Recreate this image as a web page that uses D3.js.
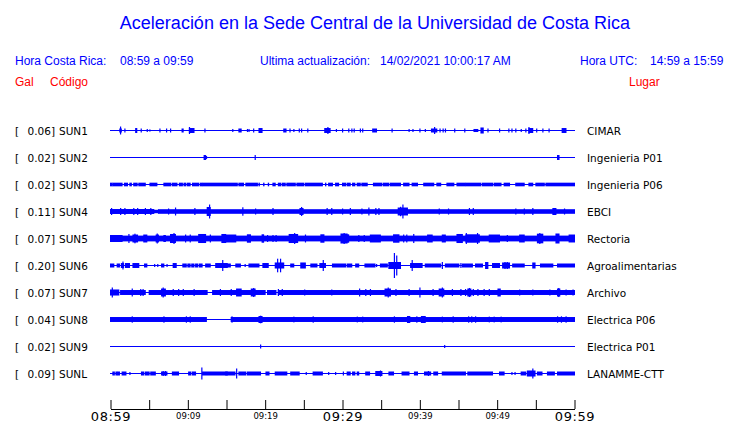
<!DOCTYPE html>
<html><head><meta charset="utf-8">
<script src="https://cdn.jsdelivr.net/npm/d3@7"></script>
<style>
html,body{margin:0;padding:0;background:#fff;}
svg{display:block;}
</style></head>
<body>
<svg id="chart" width="740" height="423"></svg>
<script>
// ---------------- DATA ----------------
const stations = ["SUN1","SUN2","SUN3","SUN4","SUN5","SUN6","SUN7","SUN8","SUN9","SUNL"];
const places = ["CIMAR","Ingenieria P01","Ingenieria P06","EBCI","Rectoria","Agroalimentarias","Archivo","Electrica P06","Electrica P01","LANAMME-CTT"];
const peakGal = ["0.06","0.02","0.02","0.11","0.07","0.20","0.07","0.04","0.02","0.09"];
const tickMinutes = [0,5,10,15,20,25,30,35,40,45,50,55,60];
const tickLabels = ["08:59","","09:09","","09:19","","09:29","","09:39","","09:49","","09:59"];
const bigTickLabels = ["08:59","09:29","09:59"];

// envelope events per trace: [startMinute, endMinute, amplitude in gal]; start==end is a single spike
const sun1 = [[1.2,1.4,0.025],[1.29,1.29,0.058],[1.85,1.85,0.025],[3.25,3.4,0.033],[3.96,3.96,0.025],[4.74,4.74,0.017],[5.08,5.08,0.01],[6.38,6.38,0.025],[7.24,7.24,0.025],[7.76,7.76,0.025],[9.25,9.4,0.025],[10.2,10.8,0.033],[10.2,10.2,0.05],[12.2,12.2,0.025],[15.8,15.8,0.017],[16.6,16.9,0.025],[17.7,17.7,0.017],[17.9,17.9,0.017],[18.5,18.5,0.025],[19.2,19.6,0.033],[22.4,22.7,0.025],[23.2,23.2,0.025],[23.7,23.7,0.017],[24.4,24.4,0.025],[24.7,24.7,0.025],[25.5,25.5,0.025],[27.7,28.4,0.033],[28.1,28.1,0.05],[29.2,29.2,0.017],[30.0,30.0,0.025],[30.8,30.8,0.025],[31.2,31.2,0.025],[31.5,31.5,0.025],[32.3,32.3,0.025],[32.6,32.6,0.025],[33.9,34.4,0.025],[36.4,36.4,0.025],[38.6,38.6,0.017],[39.1,39.1,0.017],[40.0,40.0,0.025],[40.7,40.7,0.017],[41.5,42.2,0.025],[41.9,41.9,0.05],[42.6,42.6,0.025],[43.0,43.0,0.025],[43.3,43.3,0.025],[44.5,44.5,0.025],[45.8,45.8,0.025],[47.0,47.5,0.017],[47.9,48.2,0.042],[48.8,48.8,0.025],[50.3,50.3,0.025],[51.5,51.5,0.025],[51.9,51.9,0.025],[52.4,52.4,0.025],[53.1,53.1,0.017],[53.7,53.7,0.025],[54.1,54.6,0.033],[54.1,54.1,0.05],[55.1,55.1,0.025],[55.9,55.9,0.025],[56.7,56.7,0.025],[58.4,58.9,0.033]];
const sun2 = [[12.1,12.3,0.033],[12.4,12.4,0.017],[18.7,18.7,0.033],[57.8,58.0,0.033]];
const sun3 = [[0,0.2,0.022],[0.3,1.5,0.022],[1.8,2.2,0.022],[2.5,2.7,0.022],[3.0,3.45,0.022],[3.66,4.5,0.022],[5.1,6.0,0.022],[6.9,7.8,0.022],[8.0,8.6,0.022],[8.9,9.3,0.022],[9.5,9.7,0.022],[9.9,10.3,0.022],[10.6,11.4,0.022],[11.6,11.8,0.022],[11.9,16.4,0.022],[16.6,17.2,0.022],[17.5,19.0,0.022],[19.2,19.25,0.022],[19.8,19.85,0.022],[20.4,20.45,0.022],[21.0,21.3,0.022],[21.7,22.0,0.022],[22.2,22.6,0.022],[22.8,23.9,0.022],[24.1,25.0,0.022],[25.2,27.4,0.022],[27.8,27.85,0.022],[28.2,28.7,0.022],[29.1,29.5,0.022],[30.0,30.4,0.022],[30.6,31.0,0.022],[31.3,31.6,0.022],[31.9,32.3,0.022],[32.5,33.2,0.022],[34.0,35.1,0.022],[35.3,36.0,0.022],[36.2,37.5,0.022],[37.9,38.6,0.022],[39.0,39.7,0.022],[40.5,41.8,0.022],[42.2,42.7,0.022],[43.5,44.4,0.022],[44.8,45.9,0.022],[46.0,47.9,0.022],[48.1,49.4,0.022],[49.6,50.5,0.022],[50.9,51.6,0.022],[52.4,53.5,0.022],[54.1,54.6,0.022],[55.0,56.1,0.022],[56.3,60,0.022]];
const sun4 = [[0,5.6,0.033],[5.6,6.2,0.02],[6.2,60,0.03],[0.13,0.13,0.05],[1.3,1.3,0.05],[1.85,1.85,0.05],[3.0,3.0,0.05],[3.5,3.5,0.05],[4.5,4.5,0.05],[5.2,5.2,0.05],[7.5,7.5,0.042],[8.4,8.4,0.058],[10.9,10.9,0.05],[12.5,12.9,0.067],[12.8,12.8,0.108],[17.1,17.1,0.062],[18.75,18.75,0.042],[21.0,21.0,0.05],[24.5,24.9,0.05],[24.7,24.7,0.067],[28.0,28.0,0.05],[28.6,28.6,0.05],[30.0,30.0,0.042],[31.0,31.0,0.05],[32.5,32.5,0.042],[33.4,33.4,0.058],[34.3,34.3,0.05],[34.7,34.7,0.05],[37.2,38.4,0.058],[37.5,37.5,0.07],[37.8,37.8,0.108],[42.5,42.5,0.042],[43.7,43.7,0.042],[46.4,46.4,0.05],[46.9,46.9,0.05],[52.4,52.4,0.042],[53.5,53.5,0.042],[54.6,54.6,0.05],[57.2,57.6,0.05],[58.7,58.7,0.042]];
const sun5 = [[0,60,0.04],[0,1.5,0.05],[2.37,2.37,0.067],[2.9,3.5,0.058],[3.15,3.15,0.072],[4.3,4.7,0.058],[5.9,6.2,0.058],[6.03,6.03,0.075],[6.9,7.1,0.05],[7.76,8.4,0.067],[8.2,8.2,0.083],[9.7,9.7,0.058],[10.3,10.3,0.058],[11.4,12.3,0.067],[12.9,12.9,0.058],[14.4,14.9,0.067],[14.9,16.2,0.058],[17.7,18.1,0.062],[19.6,19.8,0.062],[20.3,20.3,0.05],[21.0,21.0,0.05],[21.4,21.4,0.05],[23.1,24.2,0.067],[23.8,23.8,0.083],[25.2,25.2,0.058],[27.2,27.6,0.062],[29.8,30.6,0.075],[30.2,30.2,0.083],[30.6,30.8,0.062],[32.1,32.1,0.05],[32.8,32.8,0.05],[33.6,34.9,0.058],[36.6,37.3,0.062],[37.9,37.9,0.058],[38.3,38.3,0.058],[39.2,39.2,0.067],[41.0,41.6,0.058],[42.9,43.3,0.058],[44.8,45.5,0.067],[45.95,47.7,0.062],[46.0,46.0,0.083],[47.45,47.45,0.083],[48.97,50.3,0.058],[51.3,51.3,0.05],[52.9,53.5,0.058],[55.2,55.9,0.072],[55.5,55.5,0.083],[57.6,58.0,0.075],[59.3,60,0.058]];
const sun6 = [[0,0.43,0.025],[0.86,1.16,0.025],[1.4,1.7,0.033],[1.6,1.6,0.058],[1.94,2.46,0.033],[2.9,3.66,0.033],[4.4,4.7,0.025],[5.7,5.7,0.017],[6.1,6.1,0.017],[6.6,6.9,0.025],[7.3,7.3,0.017],[8.1,8.5,0.033],[9.35,9.8,0.025],[10.0,10.3,0.025],[10.5,10.8,0.025],[11.0,11.3,0.025],[11.5,11.85,0.025],[12.3,12.9,0.025],[13.6,15.1,0.033],[14.5,14.5,0.083],[14.9,15.5,0.025],[16.2,16.8,0.025],[17.4,17.4,0.017],[17.9,19.2,0.025],[19.7,20.4,0.033],[21.3,22.4,0.042],[21.6,21.6,0.105],[21.98,21.98,0.105],[23.3,23.7,0.025],[24.6,25.2,0.042],[25.9,26.7,0.025],[27.07,27.8,0.033],[27.5,27.5,0.083],[28.7,30.4,0.025],[30.6,31.2,0.025],[31.7,32.1,0.025],[32.9,34.2,0.025],[34.4,34.4,0.017],[34.9,35.8,0.025],[35.99,37.5,0.05],[36.7,36.7,0.2],[37.0,37.0,0.158],[38.8,40.3,0.033],[39.0,39.0,0.083],[40.7,42.7,0.025],[42.9,42.9,0.05],[43.3,45.05,0.025],[45.3,45.3,0.033],[45.5,46.8,0.025],[47.2,48.1,0.025],[48.5,48.8,0.05],[49.4,50.3,0.033],[50.7,51.6,0.042],[51.0,51.0,0.05],[51.3,51.3,0.05],[52.0,53.5,0.025],[54.6,54.9,0.042],[55.6,57.2,0.025],[57.8,60,0.025]];
const sun7 = [[0,1.08,0.042],[1.3,4.5,0.033],[5.0,12.5,0.033],[13.2,20.0,0.033],[20.3,21.4,0.033],[21.7,60,0.033],[0.22,0.22,0.075],[2.8,2.8,0.058],[3.9,3.9,0.05],[4.2,4.2,0.05],[6.6,7.1,0.058],[6.8,6.8,0.075],[8.1,8.1,0.05],[8.8,8.8,0.05],[9.4,9.4,0.05],[10.8,10.8,0.05],[14.2,14.2,0.05],[15.6,15.6,0.05],[16.3,16.9,0.058],[18.2,18.7,0.058],[18.5,18.5,0.067],[21.7,21.7,0.05],[22.2,22.2,0.05],[25.1,25.1,0.042],[28.6,28.6,0.042],[32.2,32.2,0.058],[33.0,33.0,0.05],[33.6,33.6,0.05],[35.5,36.2,0.058],[35.9,35.9,0.075],[36.9,36.9,0.05],[38.6,38.6,0.05],[40.0,40.0,0.075],[41.7,41.7,0.05],[42.5,43.1,0.058],[42.9,42.9,0.075],[44.2,44.2,0.05],[45.3,45.3,0.05],[45.9,45.9,0.05],[46.2,46.6,0.058],[46.4,46.4,0.067],[46.9,46.9,0.05],[47.5,47.5,0.05],[48.3,48.3,0.05],[48.97,48.97,0.05],[50.1,50.4,0.058],[52.9,52.9,0.042],[54.6,54.6,0.042],[56.8,56.8,0.042],[57.8,58.1,0.058],[57.95,57.95,0.067],[58.9,58.9,0.042],[59.8,59.8,0.042]];
const sun8 = [[0,12.4,0.033],[15.6,60,0.033],[2.8,2.8,0.045],[6.9,6.9,0.045],[9.8,9.8,0.045],[10.3,10.3,0.045],[15.7,15.7,0.045],[19.2,19.6,0.05],[19.4,19.4,0.055],[23.7,23.7,0.04],[26.2,26.2,0.045],[31.9,31.9,0.04],[32.6,32.6,0.04],[36.7,36.7,0.045],[38.4,38.7,0.05],[39.6,39.6,0.045],[40.2,40.7,0.05],[42.9,42.9,0.04],[44.3,44.3,0.045],[46.3,46.3,0.045],[46.7,46.7,0.045],[47.2,47.2,0.045],[48.97,48.97,0.04],[49.6,49.6,0.04],[50.5,50.5,0.04],[57.8,57.8,0.045],[58.3,58.3,0.045],[58.9,58.9,0.045]];
const sun9 = [[19.4,19.4,0.025],[43.2,43.2,0.017]];
const sunl = [[0.3,0.5,0.025],[0.7,0.9,0.025],[1.0,1.16,0.025],[1.5,2.0,0.025],[2.5,2.5,0.017],[4.0,4.3,0.025],[4.5,5.0,0.025],[5.2,5.8,0.025],[6.6,7.3,0.025],[6.8,6.8,0.033],[7.1,7.1,0.033],[8.0,8.8,0.025],[10.1,10.4,0.025],[10.6,11.0,0.025],[11.8,11.8,0.092],[11.9,15.1,0.025],[14.9,16.1,0.025],[16.3,16.3,0.075],[16.6,17.5,0.025],[17.7,19.4,0.025],[20.1,20.5,0.025],[21.3,22.8,0.025],[23.3,24.4,0.025],[25.3,25.3,0.017],[26.2,27.4,0.025],[28.2,28.2,0.017],[29.1,29.1,0.017],[30.1,30.1,0.025],[30.6,31.0,0.025],[31.3,31.6,0.025],[31.9,32.1,0.025],[33.0,33.5,0.025],[34.3,35.1,0.033],[34.9,34.9,0.042],[36.0,36.6,0.025],[37.7,38.6,0.025],[39.3,39.7,0.025],[40.6,41.4,0.025],[41.1,41.1,0.033],[41.8,42.3,0.025],[42.9,45.9,0.025],[46.2,49.4,0.025],[50.3,50.9,0.025],[51.9,51.9,0.017],[52.3,52.3,0.017],[53.1,53.7,0.025],[53.9,54.9,0.042],[54.6,54.6,0.075],[55.2,55.8,0.025],[56.5,57.4,0.025],[57.8,60,0.025]];
const traces = [sun1,sun2,sun3,sun4,sun5,sun6,sun7,sun8,sun9,sunl];

// ---------------- DRAW ----------------
const svg = d3.select("#chart");
const BLUE = "#0000ff", RED = "#ff0000";

const x = d3.scaleLinear().domain([0,60]).range([110.5,574.5]);
const y = d3.scalePoint().domain(stations).range([130.5,373.5]);
const amp = d3.scaleLinear().domain([0,0.2]).range([0,12]);

// Header texts
svg.append("text").attr("x",375).attr("y",29).attr("text-anchor","middle")
  .attr("font-family","Liberation Sans, Arial, sans-serif").attr("font-size",18).attr("fill",BLUE)
  .text("Aceleración en la Sede Central de la Universidad de Costa Rica");

const hdr = [
  [15,"Hora Costa Rica:"],[120,"08:59 a 09:59"],[260,"Ultima actualización:"],[380,"14/02/2021 10:00:17 AM"],
  [580,"Hora UTC:"],[650,"14:59 a 15:59"]
];
svg.selectAll("text.hdr").data(hdr).join("text").attr("class","hdr")
  .attr("x",d=>d[0]).attr("y",65).attr("font-family","Liberation Sans, Arial, sans-serif")
  .attr("font-size",12).attr("fill",BLUE).text(d=>d[1]);
const red = [[15,"Gal"],[50,"Código"],[629,"Lugar"]];
svg.selectAll("text.red").data(red).join("text").attr("class","red")
  .attr("x",d=>d[0]).attr("y",86).attr("font-family","Liberation Sans, Arial, sans-serif")
  .attr("font-size",12).attr("fill",RED).text(d=>d[1]);

// Row labels
const lf = "DejaVu Sans, sans-serif";
const rows = svg.append("g");
stations.forEach((s,i)=>{
  const cy = y(s);
  rows.append("text").attr("x",15).attr("y",cy+4).attr("font-family",lf).attr("font-size",10.5).text("[");
  rows.append("text").attr("x",55).attr("y",cy+4).attr("text-anchor","end").attr("font-family",lf).attr("font-size",10.5).text(peakGal[i]+"]");
  rows.append("text").attr("x",59).attr("y",cy+4).attr("font-family",lf).attr("font-size",10.5).text(s);
  rows.append("text").attr("x",587).attr("y",cy+4).attr("font-family",lf).attr("font-size",10.5).text(places[i]);
});

// Traces
const tg = svg.append("g");
stations.forEach((s,i)=>{
  const cy = y(s);
  const g = tg.append("g");
  g.append("line").attr("x1",x(0)-0.5).attr("x2",x(60)+0.5).attr("y1",cy).attr("y2",cy)
    .attr("stroke",BLUE).attr("stroke-width",1);
  const ev = traces[i];
  g.selectAll("rect.band").data(ev.filter(d=>d[1]>d[0])).join("rect").attr("class","band")
    .attr("x",d=>x(d[0])-0.5).attr("width",d=>Math.max(1,x(d[1])-x(d[0])+1))
    .attr("y",d=>cy-0.5-amp(d[2])).attr("height",d=>2*amp(d[2])+1).attr("fill",BLUE);
  g.selectAll("rect.spike").data(ev.filter(d=>d[1]===d[0])).join("rect").attr("class","spike")
    .attr("x",d=>x(d[0])-0.5).attr("width",1.2)
    .attr("y",d=>cy-0.5-amp(d[2])).attr("height",d=>2*amp(d[2])+1).attr("fill",BLUE);
});

// Axis
const axis = d3.axisBottom(x).tickValues(tickMinutes).tickSize(-9).tickSizeOuter(0)
  .tickFormat((d,i)=>tickLabels[i]);
const ag = svg.append("g").attr("transform","translate(0,409)").call(axis);
ag.select(".domain").attr("stroke","#000");
ag.selectAll(".tick line").attr("stroke","#000");
ag.selectAll(".tick text").attr("fill","#000").attr("font-family",lf)
  .attr("dy",null)
  .attr("y",function(d,i){return bigTickLabels.includes(tickLabels[i])?12:9.5;})
  .attr("font-size",function(d,i){return bigTickLabels.includes(tickLabels[i])?13:8.5;})
  .attr("letter-spacing",function(d,i){return bigTickLabels.includes(tickLabels[i])?0.6:0;});
</script>
</body></html>
